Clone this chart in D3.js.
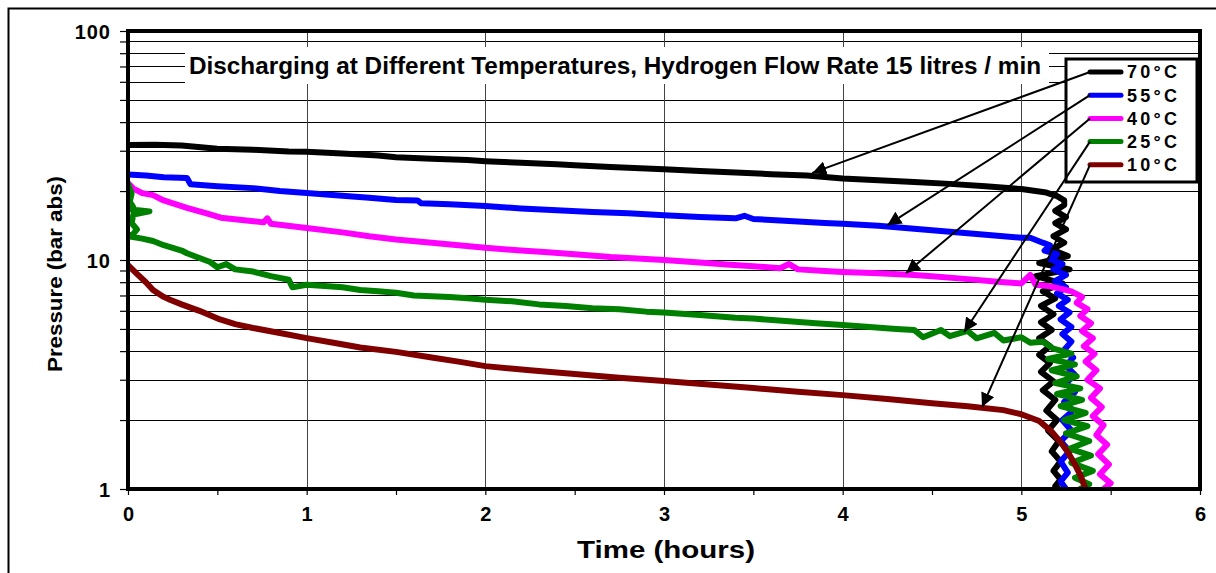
<!DOCTYPE html>
<html>
<head>
<meta charset="utf-8">
<script src="https://cdn.jsdelivr.net/npm/d3@7"></script>
<style>
  body { margin: 0; background: #fff; }
  svg { display: block; }
  .grid-h { stroke: #000; stroke-width: 1; shape-rendering: crispEdges; }
  .grid-v { stroke: #444; stroke-width: 1; shape-rendering: crispEdges; }
  .curve { fill: none; stroke-width: 6; stroke-linejoin: round; stroke-linecap: round; }
  .lbl { font-family: "Liberation Sans", Arial, sans-serif; font-weight: bold; }
</style>
</head>
<body>
<script>
"use strict";

var width = 1216, height = 573;
var margin = { left: 128, right: 16, top: 31, bottom: 84 };

var titleText = "Discharging at Different Temperatures, Hydrogen Flow Rate 15 litres / min";
var xTicks = [0, 1, 2, 3, 4, 5, 6];
var xMinorTicks = [0, 0.5, 1, 1.5, 2, 2.5, 3, 3.5, 4, 4.5, 5, 5.5, 6];
var yTicks = [1, 10, 100];
var yMinorTicks = [1, 2, 3, 4, 5, 6, 7, 8, 9, 10, 20, 30, 40, 50, 60, 70, 80, 90, 100];

var seriesNames = ["70°C", "55°C", "40°C", "25°C", "10°C"];
var seriesColors = ["#000000", "#0000ff", "#ff00ff", "#008000", "#800000"];

// [time (h), pressure (bar abs)]
var data70 = [[0,31.8],[0.15,31.9],[0.3,31.6],[0.5,30.6],[0.7,30.3],[0.9,29.8],[1.0,29.7],[1.2,29.2],[1.4,28.6],
  [1.5,28.1],[1.7,27.7],[1.9,27.3],[2.0,27.0],[2.2,26.6],[2.4,26.2],[2.5,25.9],[2.7,25.5],[2.9,25.1],[3.0,24.9],
  [3.2,24.5],[3.4,24.1],[3.6,23.7],[3.8,23.4],[4.0,22.7],[4.2,22.3],[4.4,21.9],[4.6,21.5],[4.8,21.0],[5.0,20.4],
  [5.08,20.0],[5.14,19.7],[5.2,19.0],[5.24,18.2],[5.24,17.4],[5.19,16.4],[5.25,15.4],[5.19,14.5],[5.25,13.6],
  [5.18,12.7],[5.24,11.9],[5.17,11.1],[5.26,10.4],[5.1,9.7],[5.27,9.1],[5.08,8.5],[5.23,7.9],[5.12,7.3],[5.19,6.8],
  [5.11,6.3],[5.18,5.8],[5.11,5.35],[5.17,4.95],[5.1,4.55],[5.16,4.2],[5.1,3.85],[5.16,3.55],[5.11,3.25],[5.18,2.95],
  [5.12,2.7],[5.19,2.45],[5.14,2.2],[5.2,2.0],[5.15,1.8],[5.21,1.62],[5.17,1.46],[5.22,1.32],[5.18,1.2],[5.22,1.1],
  [5.19,1.03],[5.21,1.0]];

var data55 = [[0,23.6],[0.1,23.4],[0.2,23.0],[0.33,22.8],[0.35,21.4],[0.5,21.0],[0.7,20.6],[0.85,20.0],[1.0,19.6],
  [1.2,19.1],[1.35,18.7],[1.5,18.3],[1.62,18.2],[1.64,17.7],[1.8,17.5],[2.0,17.2],[2.2,16.8],[2.4,16.5],[2.6,16.2],
  [2.8,16.0],[3.0,15.7],[3.2,15.4],[3.4,15.2],[3.45,15.6],[3.5,15.1],[3.7,14.8],[3.9,14.5],[4.0,14.4],[4.2,14.1],
  [4.4,13.7],[4.6,13.3],[4.8,12.9],[5.0,12.5],[5.05,12.5],[5.12,11.9],[5.16,11.6],[5.13,11.0],[5.2,10.6],[5.16,10.1],
  [5.23,9.6],[5.18,9.1],[5.25,8.6],[5.19,8.1],[5.25,7.6],[5.2,7.15],[5.26,6.7],[5.21,6.3],[5.27,5.9],[5.22,5.5],
  [5.28,5.1],[5.23,4.75],[5.28,4.4],[5.24,4.05],[5.29,3.75],[5.25,3.45],[5.3,3.15],[5.25,2.9],[5.3,2.65],[5.24,2.4],
  [5.29,2.2],[5.23,2.0],[5.28,1.8],[5.22,1.62],[5.27,1.46],[5.22,1.32],[5.26,1.18],[5.22,1.08],[5.25,1.0]];

var data40 = [[0,21.7],[0.03,20.5],[0.08,19.6],[0.14,19.2],[0.2,18.2],[0.33,16.9],[0.45,15.9],[0.52,15.3],[0.65,14.9],
  [0.76,14.6],[0.78,15.2],[0.8,14.4],[1.0,13.8],[1.2,13.2],[1.35,12.7],[1.5,12.3],[1.7,11.9],[1.85,11.6],[2.0,11.3],
  [2.2,11.0],[2.35,10.8],[2.5,10.6],[2.7,10.3],[2.85,10.15],[3.0,10.0],[3.2,9.75],[3.35,9.55],[3.5,9.4],[3.65,9.2],
  [3.7,9.6],[3.75,9.1],[3.9,8.95],[4.0,8.87],[4.2,8.75],[4.4,8.6],[4.5,8.5],[4.7,8.25],[4.85,8.05],[5.0,7.9],
  [5.05,8.6],[5.08,7.8],[5.15,7.7],[5.22,7.5],[5.28,7.3],[5.34,6.9],[5.31,6.5],[5.37,6.1],[5.33,5.7],[5.39,5.3],
  [5.34,4.9],[5.4,4.55],[5.35,4.2],[5.41,3.9],[5.36,3.6],[5.42,3.3],[5.37,3.0],[5.44,2.75],[5.39,2.5],[5.45,2.28],
  [5.4,2.08],[5.46,1.9],[5.42,1.72],[5.48,1.56],[5.43,1.42],[5.49,1.28],[5.44,1.16],[5.5,1.06],[5.46,1.0]];

var data25 = [[0,21.5],[0.02,19.5],[0.01,18],[0.03,17],[0.02,16.6],[0.12,16.3],[0.03,15.8],[0.02,14.5],[0.05,13.6],
  [0.03,13.0],[0.0,12.7],[0.08,12.4],[0.14,12.1],[0.2,11.6],[0.25,11.3],[0.3,11.0],[0.33,10.7],[0.4,10.2],[0.46,9.8],
  [0.5,9.3],[0.55,9.6],[0.6,9.1],[0.7,8.9],[0.8,8.5],[0.9,8.2],[0.92,7.6],[1.0,7.8],[1.1,7.7],[1.2,7.6],[1.3,7.4],
  [1.4,7.3],[1.5,7.2],[1.6,7.0],[1.7,6.95],[1.8,6.9],[1.9,6.8],[2.0,6.7],[2.15,6.6],[2.3,6.4],[2.45,6.3],[2.6,6.15],
  [2.75,6.1],[2.9,5.95],[3.0,5.9],[3.2,5.75],[3.4,5.6],[3.5,5.55],[3.7,5.4],[3.85,5.3],[4.0,5.2],[4.15,5.1],[4.3,5.0],
  [4.4,4.95],[4.45,4.6],[4.55,4.95],[4.6,4.65],[4.7,4.9],[4.75,4.55],[4.85,4.8],[4.9,4.45],[5.0,4.6],[5.05,4.35],
  [5.12,4.4],[5.18,4.1],[5.28,3.9],[5.15,3.7],[5.3,3.5],[5.17,3.3],[5.31,3.1],[5.19,2.9],[5.33,2.75],[5.2,2.6],
  [5.34,2.45],[5.22,2.3],[5.36,2.15],[5.24,2.0],[5.37,1.88],[5.25,1.75],[5.38,1.62],[5.27,1.5],[5.39,1.4],[5.28,1.3],
  [5.4,1.2],[5.3,1.12],[5.38,1.05],[5.33,1.0]];

var data10 = [[0,9.5],[0.05,8.7],[0.1,8.0],[0.14,7.4],[0.2,6.9],[0.235,6.7],[0.3,6.4],[0.4,6.0],[0.515,5.5],[0.6,5.25],
  [0.7,5.05],[0.85,4.8],[1.0,4.56],[1.15,4.35],[1.3,4.15],[1.5,3.97],[1.7,3.75],[1.85,3.6],[2.0,3.44],[2.25,3.3],
  [2.5,3.18],[2.75,3.06],[3.0,2.96],[3.25,2.86],[3.5,2.76],[3.75,2.66],[4.0,2.57],[4.25,2.47],[4.5,2.37],[4.7,2.3],
  [4.9,2.21],[5.0,2.12],[5.1,1.98],[5.17,1.78],[5.22,1.6],[5.26,1.45],[5.3,1.28],[5.33,1.15],[5.36,1.0]];

// points on each curve the legend arrows point at
var arrowTargets = [[3.83, 24.0], [4.25, 14.2], [4.355, 8.77], [4.68, 4.85], [4.78, 2.28]];

var allSeries = [data70, data55, data40, data25, data10];

var svg = d3.select("body").append("svg")
  .attr("width", width)
  .attr("height", height);

// outer frame
svg.append("rect")
  .attr("x", 8.5).attr("y", 8.5)
  .attr("width", width + 20).attr("height", height + 20)
  .attr("fill", "none").attr("stroke", "#000").attr("stroke-width", 2);

var x = d3.scaleLinear().domain([0, 6]).range([margin.left, width - margin.right]);
var y = d3.scaleLog().domain([1, 100]).range([height - margin.bottom, margin.top]);

var plot = svg.append("g");

// grid
plot.selectAll(".grid-h")
  .data(yMinorTicks)
  .enter().append("line")
  .attr("class", "grid-h")
  .attr("x1", x(0)).attr("x2", x(6))
  .attr("y1", function(d) { return Math.round(y(d)) + 0.5; })
  .attr("y2", function(d) { return Math.round(y(d)) + 0.5; });

plot.selectAll(".grid-v")
  .data(xTicks)
  .enter().append("line")
  .attr("class", "grid-v")
  .attr("y1", y(100)).attr("y2", y(1))
  .attr("x1", function(d) { return Math.round(x(d)) + 0.5; })
  .attr("x2", function(d) { return Math.round(x(d)) + 0.5; });

// axes
var yAxis = d3.axisLeft(y)
  .tickValues(yMinorTicks)
  .tickSize(8)
  .tickFormat(function(d) { return yTicks.indexOf(d) >= 0 ? d : ""; });

svg.append("g")
  .attr("transform", "translate(" + x(0) + ",0)")
  .call(yAxis)
  .call(function(g) {
    g.select(".domain").remove();
    g.selectAll("line").attr("stroke", "#000").attr("stroke-width", 1.2);
    g.selectAll("text").attr("class", "lbl").attr("font-size", 20).attr("fill", "#000")
      .attr("letter-spacing", 1)
      .attr("x", -17).attr("dy", "0.35em");
  });

var xAxis = d3.axisBottom(x)
  .tickValues(xMinorTicks)
  .tickSize(6)
  .tickFormat(function(d) { return xTicks.indexOf(d) >= 0 ? d : ""; });

svg.append("g")
  .attr("transform", "translate(0," + y(1) + ")")
  .call(xAxis)
  .call(function(g) {
    g.select(".domain").remove();
    g.selectAll("line").attr("stroke", "#000").attr("stroke-width", 1.2);
    g.selectAll("text").attr("class", "lbl").attr("font-size", 20).attr("fill", "#000")
      .attr("y", 18);
  });

// title box
svg.append("rect")
  .attr("x", 185).attr("y", 47)
  .attr("width", 864).attr("height", 37)
  .attr("fill", "#fff");

svg.append("text")
  .attr("class", "lbl")
  .attr("x", 189).attr("y", 74)
  .attr("font-size", 23)
  .attr("textLength", 852)
  .attr("lengthAdjust", "spacingAndGlyphs")
  .style("font-family", "'Liberation Sans Narrow', 'Arial Narrow', 'Liberation Sans', sans-serif")
  .text(titleText);

// curves
var line = d3.line()
  .x(function(d) { return x(d[0]); })
  .y(function(d) { return y(d[1]); });

svg.append("defs").append("clipPath").attr("id", "clip")
  .append("rect")
  .attr("x", x(0)).attr("y", y(100))
  .attr("width", x(6) - x(0)).attr("height", y(1) - y(100));

svg.append("g").attr("clip-path", "url(#clip)")
  .selectAll("path")
  .data(allSeries)
  .enter().append("path")
  .attr("class", "curve")
  .attr("stroke", function(d, i) { return seriesColors[i]; })
  .attr("d", line);

// plot frame
svg.append("rect")
  .attr("x", x(0)).attr("y", y(100))
  .attr("width", x(6) - x(0)).attr("height", y(1) - y(100))
  .attr("fill", "none").attr("stroke", "#000").attr("stroke-width", 4);

// legend
var legX = 1066, legY = 59, legW = 131, legH = 123, rowH = 23.2;
svg.append("rect")
  .attr("x", legX).attr("y", legY)
  .attr("width", legW).attr("height", legH)
  .attr("fill", "#fff").attr("stroke", "#000").attr("stroke-width", 3);

var leg = svg.selectAll(".leg")
  .data(seriesNames)
  .enter().append("g")
  .attr("class", "leg")
  .attr("transform", function(d, i) { return "translate(" + legX + "," + (legY + 13 + i * rowH) + ")"; });

leg.append("line")
  .attr("x1", 24).attr("x2", 55)
  .attr("stroke", function(d, i) { return seriesColors[i]; })
  .attr("stroke-width", 5).attr("stroke-linecap", "round");

leg.append("text")
  .attr("class", "lbl")
  .attr("x", 61).attr("dy", "0.36em")
  .attr("font-size", 18)
  .attr("textLength", 50)
  .attr("lengthAdjust", "spacing")
  .text(function(d) { return d; });

// arrows
svg.select("defs").append("marker")
  .attr("id", "arrow")
  .attr("viewBox", "0 0 10 10")
  .attr("refX", 10).attr("refY", 5)
  .attr("markerWidth", 7).attr("markerHeight", 7)
  .attr("markerUnits", "strokeWidth")
  .attr("orient", "auto")
  .append("path")
  .attr("d", "M0,0 L10,5 L0,10 z")
  .attr("fill", "#000");

svg.selectAll(".arrow")
  .data(arrowTargets)
  .enter().append("line")
  .attr("class", "arrow")
  .attr("x1", legX + 24)
  .attr("y1", function(d, i) { return legY + 13 + i * rowH; })
  .attr("x2", function(d) { return x(d[0]); })
  .attr("y2", function(d) { return y(d[1]); })
  .attr("stroke", "#000").attr("stroke-width", 2)
  .attr("marker-end", "url(#arrow)");

// axis titles
svg.append("text")
  .attr("class", "lbl")
  .attr("transform", "translate(62," + ((y(1) + y(100)) / 2 + 14) + ") rotate(-90)")
  .attr("text-anchor", "middle")
  .attr("font-size", 20)
  .attr("textLength", 196)
  .attr("lengthAdjust", "spacingAndGlyphs")
  .text("Pressure (bar abs)");

svg.append("text")
  .attr("class", "lbl")
  .attr("x", (x(0) + x(6)) / 2 + 2).attr("y", 558)
  .attr("text-anchor", "middle")
  .attr("font-size", 23)
  .attr("textLength", 178)
  .attr("lengthAdjust", "spacingAndGlyphs")
  .text("Time (hours)");
</script>
</body>
</html>
